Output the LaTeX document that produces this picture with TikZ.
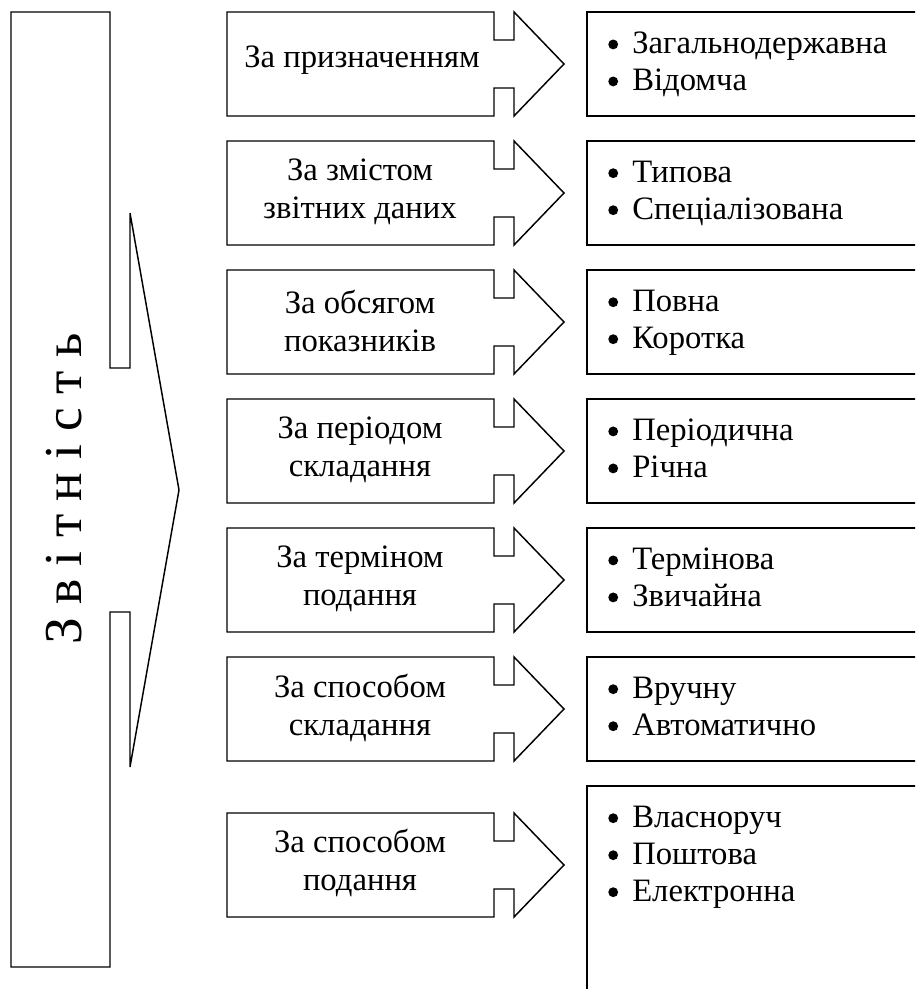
\documentclass[tikz,border=0pt]{standalone}
\usepackage{fontspec}
\setmainfont{Liberation Serif}
\usetikzlibrary{positioning}

\newcommand{\itembullet}{\makebox[18pt][l]{\tikz[baseline=-0.29em]\fill (0,0) circle (3.7pt);}}

\tikzset{
  shapeline/.style={draw=black,line width=1.1pt,line join=miter},
  grouptext/.style={font=\fontsize{24.5}{28.5}\selectfont,align=center,inner sep=0pt},
  itemtext/.style={font=\fontsize{24.5}{27.75}\selectfont,align=left,inner sep=0pt,anchor=north west}
}

\begin{document}
\begin{tikzpicture}[x=0.75pt,y=-0.75pt]
\useasboundingbox (0,0) rectangle (915,989);
\clip (0,0) rectangle (915,989);

% big left arrow
\draw[shapeline] (11,12) -- (110,12) -- (110,368) -- (130,368) -- (130,213) -- (179,490) -- (130,767) -- (130,612) -- (110,612) -- (110,967) -- (11,967) -- cycle;
\node[font=\fontsize{40}{40}\selectfont,rotate=90,inner sep=0pt] (zvit) at (64.5,489) {З в і т н і с т ь};

% group arrows
\draw[shapeline] (227,12) -- (494,12) -- (494,40) -- (514,40) -- (514,12) -- (564,64) -- (514,116) -- (514,88) -- (494,88) -- (494,116) -- (227,116) -- cycle;
\draw[shapeline] (227,141) -- (494,141) -- (494,169) -- (514,169) -- (514,141) -- (564,193) -- (514,245) -- (514,217) -- (494,217) -- (494,245) -- (227,245) -- cycle;
\draw[shapeline] (227,270) -- (494,270) -- (494,298) -- (514,298) -- (514,270) -- (564,322) -- (514,374) -- (514,346) -- (494,346) -- (494,374) -- (227,374) -- cycle;
\draw[shapeline] (227,399) -- (494,399) -- (494,427) -- (514,427) -- (514,399) -- (564,451) -- (514,503) -- (514,475) -- (494,475) -- (494,503) -- (227,503) -- cycle;
\draw[shapeline] (227,528) -- (494,528) -- (494,556) -- (514,556) -- (514,528) -- (564,580) -- (514,632) -- (514,604) -- (494,604) -- (494,632) -- (227,632) -- cycle;
\draw[shapeline] (227,657) -- (494,657) -- (494,685) -- (514,685) -- (514,657) -- (564,709) -- (514,761) -- (514,733) -- (494,733) -- (494,761) -- (227,761) -- cycle;
\draw[shapeline] (227,813) -- (494,813) -- (494,841) -- (514,841) -- (514,813) -- (564,865) -- (514,917) -- (514,889) -- (494,889) -- (494,917) -- (227,917) -- cycle;

\node[grouptext] (purpose) at (362,60) {За призначенням};
\node[grouptext] (content) at (360,192) {За змістом\\звітних даних};
\node[grouptext] (volume) at (360,321) {За обсягом\\показників};
\node[grouptext] (period) at (360,450) {За періодом\\складання};
\node[grouptext] (term) at (360,579) {За терміном\\подання};
\node[grouptext] (method) at (360,708) {За способом\\складання};
\node[grouptext] (delivery) at (360,863) {За способом\\подання};

% item boxes
\draw[shapeline] (587,12) rectangle (935,116);
\draw[shapeline] (587,141) rectangle (935,245);
\draw[shapeline] (587,270) rectangle (935,374);
\draw[shapeline] (587,399) rectangle (935,503);
\draw[shapeline] (587,528) rectangle (935,632);
\draw[shapeline] (587,657) rectangle (935,761);
\draw[shapeline] (935,786) -- (587,786) -- (587,1000);

\node[itemtext] (purposeitems) at (608,32) {\itembullet Загальнодержавна\\\itembullet Відомча};
\node[itemtext] (contentitems) at (608,161) {\itembullet Типова\\\itembullet Спеціалізована};
\node[itemtext] (volumeitems) at (608,290) {\itembullet Повна\\\itembullet Коротка};
\node[itemtext] (perioditems) at (608,419) {\itembullet Періодична\\\itembullet Річна};
\node[itemtext] (termitems) at (608,548) {\itembullet Термінова\\\itembullet Звичайна};
\node[itemtext] (methoditems) at (608,677) {\itembullet Вручну\\\itembullet Автоматично};
\node[itemtext] (deliveryitems) at (608,806) {\itembullet Власноруч\\\itembullet Поштова\\\itembullet Електронна};

\end{tikzpicture}
\end{document}
